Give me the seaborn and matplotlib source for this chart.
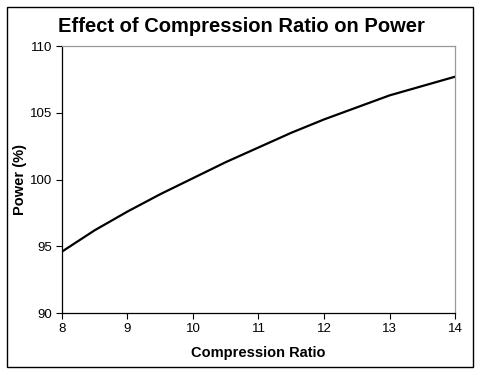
import matplotlib
matplotlib.use("Agg")
import matplotlib.pyplot as plt
import pandas as pd
import seaborn as sns
from matplotlib.patches import Rectangle

compression_ratio = [8.0, 8.5, 9.0, 9.5, 10.0, 10.5, 11.0, 11.5, 12.0, 12.5, 13.0, 13.5, 14.0]
power_pct = [94.6, 96.2, 97.6, 98.9, 100.1, 101.3, 102.4, 103.5, 104.5, 105.4, 106.3, 107.0, 107.7]

x_ticks = [8, 9, 10, 11, 12, 13, 14]
y_ticks = [90, 95, 100, 105, 110]

sns.set_theme(style="white")
plt.rcParams["font.family"] = ["Liberation Sans", "DejaVu Sans"]
plt.rcParams["text.color"] = "black"
plt.rcParams["axes.labelcolor"] = "black"
plt.rcParams["xtick.color"] = "black"
plt.rcParams["ytick.color"] = "black"

frame = pd.DataFrame({"ratio": compression_ratio, "power": power_pct})

fig = plt.figure(figsize=(4.82, 3.75), dpi=100)
ax = fig.add_axes([0.1286, 0.1653, 0.944 - 0.1286, 0.8773 - 0.1653])

sns.lineplot(data=frame, x="ratio", y="power", color="black", linewidth=1.6, ax=ax)

ax.set_xlim(8, 14)
ax.set_ylim(90, 110)
ax.set_xticks(x_ticks)
ax.set_yticks(y_ticks)
ax.tick_params(axis="both", which="major", labelsize=9.5, length=4, width=0.8,
               direction="out", pad=3, bottom=True, left=True)
ax.set_xlabel("Compression Ratio", fontsize=10.5, fontweight="bold")
ax.set_ylabel("Power (%)", fontsize=10.5, fontweight="bold")
ax.yaxis.set_label_coords(-0.09, 0.5)
ax.xaxis.set_label_coords(0.5, -0.122)

for side in ["left", "bottom"]:
    ax.spines[side].set_color("black")
    ax.spines[side].set_linewidth(0.9)
for side in ["top", "right"]:
    ax.spines[side].set_color("#999999")
    ax.spines[side].set_linewidth(0.9)

fig.text(0.5, 0.93, "Effect of Compression Ratio on Power", ha="center", va="center",
         fontsize=14.5, fontweight="bold")

fig.patches.append(Rectangle((7 / 482, 1 - 367 / 375), 466 / 482, 360 / 375,
                             transform=fig.transFigure, fill=False,
                             edgecolor="black", linewidth=1.0))

fig.savefig("out.png", dpi=100)
